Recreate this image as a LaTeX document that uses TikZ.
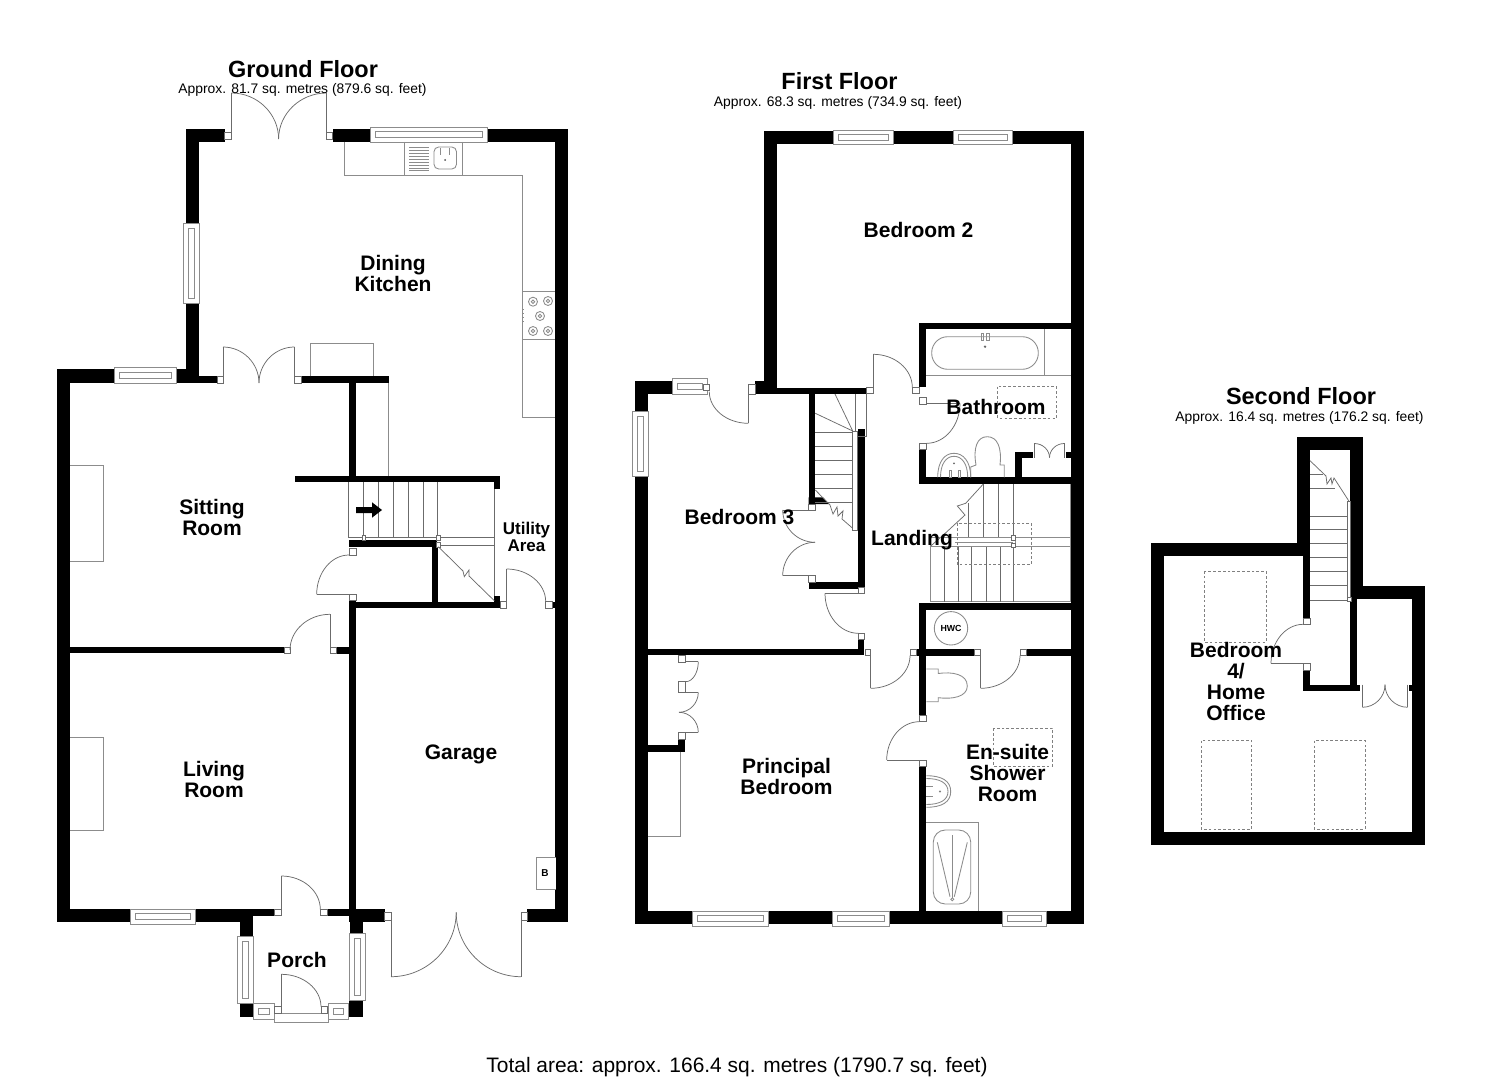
\documentclass[tikz,border=0pt]{standalone}
\usepackage{fontspec}
\setmainfont{Liberation Sans}
\tikzset{
  ln/.style={draw=black!58,line width=0.55pt,line join=miter},
  fx/.style={draw=black!45,line width=0.65pt},
  dsh/.style={draw=black!50,line width=0.7pt,dash pattern=on 2pt off 1.6pt},
  room/.style={inner sep=0pt,align=center,font=\fontsize{15.75}{15.75}\selectfont\bfseries},
  small room/.style={inner sep=0pt,align=center,font=\fontsize{12.75}{12.5}\selectfont\bfseries},
  title/.style={inner sep=0pt,font=\fontsize{17.6}{20}\selectfont\bfseries},
  sub/.style={inner sep=0pt,font=\fontsize{10.4}{12}\selectfont}
}
\newcommand{\wl}[4]{\fill[black] (#1,#2) rectangle (#3,#4);}
\newcommand{\sq}[4]{\filldraw[fill=white,ln] (#1,#2) rectangle (#3,#4);}
\newcommand{\qa}[4]{\draw[ln] (#1,#2) .. controls ({#1+.55*(#3-#1)},#2) and (#3,{#4-.55*(#4-#2)}) .. (#3,#4);}
\newcommand{\hwin}[4]{\filldraw[fill=white,fx] (#1,#3) rectangle (#2,#4);
  \draw[fx] ({#1+5},{(#3+#4)/2-3}) rectangle ({#2-5},{(#3+#4)/2+3});}
\newcommand{\vwin}[4]{\filldraw[fill=white,fx] (#1,#3) rectangle (#2,#4);
  \draw[fx] ({(#1+#2)/2-3},{#3+5}) rectangle ({(#1+#2)/2+3},{#4-5});}
\begin{document}
\begin{tikzpicture}[x=0.75pt,y=-0.75pt]
\useasboundingbox (0,0) rectangle (1485,1080);
\fill[white] (0,0) rectangle (1485,1080);

%% ---------- GROUND FLOOR ----------
% outer walls
\wl{186}{129}{224.5}{142}
\wl{186}{129}{199}{223}
\wl{186}{303}{199}{383}
\wl{57}{369}{114}{383}
\wl{176}{369}{199}{383}
\wl{199}{376.5}{217}{383}
\wl{57}{369}{70}{922}
\wl{333}{129}{370}{142}
\wl{487.6}{129}{568}{142}
\wl{555}{129}{568}{922}
\wl{301}{376.5}{389}{383}
\wl{349}{382}{355.7}{480}
\wl{295}{475.7}{500}{482}
\wl{494.3}{482}{500}{489}
\wl{349}{540}{437}{546.7}
\wl{432}{546}{438.3}{602}
\wl{349}{601.7}{500}{608.3}
\wl{494.3}{596}{500}{602}
\wl{349}{601}{355.7}{922}
\wl{552.3}{601.7}{555}{608.3}
\wl{70}{646.7}{284.5}{653.3}
\wl{336}{647.3}{349}{653.7}
% bottom
\wl{57}{909.3}{130.3}{922.3}
\wl{195.5}{909.3}{253}{922.3}
\wl{240}{922}{253}{936}
\wl{253}{909.3}{274.5}{915.7}
\wl{327}{909.3}{350}{915.7}
\wl{349.7}{909.3}{384.8}{922.3}
\wl{349.7}{922}{362.8}{933.3}
\wl{240}{1003.3}{253.8}{1017.3}
\wl{349}{1000}{362.8}{1017.3}
\wl{527}{909.3}{568}{922.3}
% windows
\hwin{370}{487.6}{127.3}{142}
\vwin{183.8}{199.7}{223}{303}
\hwin{114}{176}{367.5}{383}
\hwin{130.3}{195.5}{909.3}{924.3}
\vwin{237}{253}{936}{1003.3}
\vwin{349.7}{365.9}{933.3}{1000}
\hwin{253.8}{274.5}{1003}{1019}
\hwin{328}{348.8}{1003}{1019}
\filldraw[fill=white,fx] (274.5,1013) rectangle (328,1022.7);
% rear french doors
\sq{224.5}{132}{231.4}{139}
\sq{326.6}{132}{332.8}{139}
\draw[ln] (231.4,139) -- (231.4,93);
\draw[ln] (326.6,139) -- (326.6,93);
\qa{231.4}{93}{278.6}{139}
\qa{326.6}{93}{278.6}{139}
% sitting room doors
\sq{217}{376.5}{223}{383}
\sq{294.5}{376.5}{301}{383}
\draw[ln] (223,376.5) -- (223,347);
\draw[ln] (294.5,376.5) -- (294.5,347);
\qa{223}{347}{259}{383}
\qa{294.5}{347}{259}{383}
% kitchen units
\draw[fx] (344,142) -- (344,175) -- (522,175) -- (522,417) -- (555,417);
\draw[fx] (404,142) -- (404,175);
\draw[fx] (462,142) -- (462,175);
\foreach \yy in {147,150,153,156,159,162,165,168,170}{\draw[fx] (409,\yy) -- (429,\yy);}
\draw[fx,rounded corners=3.5pt] (434,147) rectangle (456.5,169);
\draw[fx] (440,148) -- (440,155);
\draw[fx] (449,148) -- (449,155);
\fill[black!70] (445,160) circle[radius=1];
\draw[fx] (522,291.7) -- (555,291.7);
\draw[fx] (522,339.3) -- (555,339.3);
\foreach \cx/\cy in {533/301.7,548/301,540/316,533/331,548/331}{
  \draw[fx] (\cx,\cy) circle[radius=4.5];
  \draw[fx] (\cx,\cy) circle[radius=1.8];}
\foreach \yy in {309,313,317,321}{\draw[fx] (522,\yy) -- (524,\yy);}
% fireplace-like boxes
\draw[fx] (310.7,376.5) -- (310.7,343) -- (373.8,343) -- (373.8,376.5);
\draw[fx] (70,465) -- (103.5,465) -- (103.5,561) -- (70,561);
\draw[fx] (70,737.3) -- (103.8,737.3) -- (103.8,830.7) -- (70,830.7);
% stairs
\draw[fx] (388.3,383) -- (388.3,476);
\draw[ln] (348.3,482) -- (348.3,537.7) -- (494.3,537.7);
\foreach \xx in {363.3,378.3,393.3,408.3,423.3,437.7}{\draw[ln] (\xx,482) -- (\xx,537.7);}
\draw[ln] (494.3,489) -- (494.3,596);
\draw[ln] (438.3,545) -- (494.3,545);
\sq{362}{535.7}{365.7}{540}
\sq{436.7}{535.7}{440.7}{540}
\sq{436.7}{542.7}{440.7}{547}
\draw[ln] (438.3,546.7) -- (463,571) -- (464.3,576.7) -- (469,570) -- (469,576) -- (494.3,600.7);
% arrow
\fill[black] (356,507) -- (372,507) -- (372,502.3) -- (382,510) -- (372,517.7) -- (372,513) -- (356,513) -- cycle;
% cupboard door
\sq{349}{548.3}{356}{555}
\sq{349}{594.3}{356}{600.7}
\qa{349}{555}{316.7}{594.3}
\draw[ln] (316.7,594.3) -- (349,594.3);
% utility door
\sq{500}{601.7}{506.7}{608.3}
\sq{545.7}{601.7}{552.3}{608.3}
\draw[ln] (506.7,601.7) -- (506.7,569);
\qa{506.7}{569}{545.7}{601.7}
% sitting-living door
\sq{284.5}{647.3}{290}{653.7}
\sq{330}{647.3}{336}{653.7}
\draw[ln] (330,647.3) -- (330,614.3);
\qa{330}{614.3}{290}{650}
% front door inner
\sq{274.5}{909.3}{281.4}{915.7}
\sq{320.3}{909.3}{327}{915.7}
\draw[ln] (281.4,909.3) -- (281.4,876);
\qa{281.4}{876}{320.3}{909.3}
% porch door
\sq{274.5}{1006.7}{281.4}{1013}
\sq{321}{1006.7}{327}{1013}
\draw[ln] (281.4,1006.7) -- (281.4,974.3);
\qa{281.4}{974.3}{321}{1006.7}
% garage doors
\sq{384.8}{912.3}{391}{920}
\sq{521}{912.3}{527}{920}
\draw[ln] (391,920) -- (391,976.7);
\draw[ln] (521,920) -- (521,976.7);
\qa{391}{976.7}{456.2}{912.3}
\qa{521}{976.7}{456.2}{912.3}
% boiler
\filldraw[fill=white,fx] (555.5,857.7) -- (536,857.7) -- (536,889.3) -- (555.5,889.3);
\node[inner sep=0pt,font=\fontsize{7.5}{8}\selectfont\bfseries] (boiler) at (545,873) {B};

%% ---------- FIRST FLOOR ----------
\wl{764}{131}{833}{144}
\wl{893}{131}{953}{144}
\wl{1012}{131}{1084}{144}
\wl{764}{131}{776.7}{394}
\wl{755}{380.7}{776.7}{394}
\wl{755}{387.7}{866.7}{394}
\wl{1071}{131}{1084}{924.3}
\wl{635}{380.7}{672.3}{394}
\wl{635}{380.7}{648.3}{411}
\wl{635}{476.7}{648.3}{924.3}
\wl{635}{911}{692.7}{924.3}
\wl{768.7}{911}{832.7}{924.3}
\wl{889.3}{911}{1002.3}{924.3}
\wl{1046.7}{911}{1084}{924.3}
\wl{808.7}{394}{815.3}{504}
\fill[black] (808.7,497.3) -- (823,497.3) -- (829,504) -- (808.7,504) -- cycle;
\wl{808.7}{582.3}{865}{588.7}
\wl{857.7}{429}{865}{588.7}
\wl{857.7}{639.3}{864.3}{655}
\wl{648}{649.3}{864.3}{655.3}
\wl{648}{744.7}{685}{751.7}
\wl{678.3}{739}{685}{751.7}
\wl{919.3}{322.7}{1071}{329.3}
\wl{919.3}{322.7}{926.3}{387.3}
\wl{919.3}{449.3}{926.3}{484}
\wl{919.3}{477.3}{1071}{484}
\wl{1015}{451.7}{1021.7}{478}
\wl{1015}{451.7}{1032.7}{457.7}
\wl{1066}{451.7}{1071}{457.7}
\wl{919.3}{603.3}{1071}{610}
\wl{919.3}{603.3}{926.3}{715.7}
\wl{916.7}{649}{974.3}{655.7}
\wl{1026}{649}{1071}{655.7}
\wl{919.3}{766.7}{926.3}{911}
% windows
\hwin{833}{893}{130}{144}
\hwin{953}{1012}{130}{144}
\hwin{672.3}{707.3}{378.3}{394}
\vwin{632.7}{648.3}{411}{476.7}
\hwin{692.7}{768.7}{911}{926}
\hwin{832.7}{889.3}{911}{926}
\hwin{1002.3}{1046.7}{911}{926}
% bedroom 3 entry door
\sq{703}{384}{709}{390.7}
\sq{748.3}{384}{755}{394}
\draw[ln] (748.3,394) -- (748.3,423.3);
\qa{748.3}{423.3}{709.3}{391.7}
% small stairs
\draw[ln] (866.7,394) -- (866.7,436.7) -- (857.7,436.7);
\draw[ln] (855,394) -- (855,431);
\filldraw[fill=white,ln] (852.7,431) rectangle (857.7,530.7);
\foreach \yy in {432.3,446,460,474,488.3,502.3}{\draw[ln] (815.3,\yy) -- (852.7,\yy);}
\draw[ln] (815.3,413.3) -- (852.7,431) -- (835,394);
\draw[ln] (815.3,490) -- (830,505) -- (833,514) -- (837,507) -- (838,516) -- (843,511) -- (842,519) -- (852.7,528.3);
\wl{857.7}{498}{859.5}{504}
% bedroom 3 cupboard doors
\sq{808.7}{504}{815.3}{510}
\sq{808.7}{575.7}{815.3}{582.3}
\draw[ln] (808.7,510) -- (782.7,510);
\draw[ln] (808.7,575.7) -- (782.7,575.7);
\qa{815}{542.3}{782.7}{510}
\qa{815}{542.3}{782.7}{575.7}
% landing-bedroom 3 door
\sq{858.3}{587.7}{864.3}{593.3}
\sq{858.3}{633.3}{864.3}{639.3}
\draw[ln] (858.3,593.3) -- (825,593.3);
\qa{858.3}{633.3}{825}{593.3}
% closet doors
\sq{678.3}{655.3}{685.7}{662.7}
\sq{678.3}{681.7}{685.7}{692}
\sq{678.3}{732.3}{685}{739}
\draw[ln] (685.7,661.7) -- (698.3,661.7);
\draw[ln] (685.7,692.3) -- (698.3,692.3);
\draw[ln] (685,732.3) -- (698.3,732.3);
\qa{685.7}{681.7}{698.3}{661.7}
\qa{679}{712.3}{698.3}{692.3}
\qa{679}{712.3}{698.3}{732.3}
\draw[fx] (680.7,751.7) -- (680.7,836.7) -- (648.3,836.7);
% bathroom doors
\sq{912.3}{387.3}{919.3}{393.3}
\sq{866.7}{387.3}{873.3}{393.3}
\draw[ln] (873.3,390) -- (873.3,354.3);
\qa{873.3}{354.3}{912.3}{387.3}
\sq{919.3}{397.3}{926.3}{404}
\sq{919.3}{443.3}{926.3}{449.3}
\draw[ln] (926.3,403.3) -- (960,403.3);
\qa{926.7}{443.3}{960}{403.3}
% bath
\draw[fx] (926.3,375) -- (1071,375);
\draw[fx] (1044.3,329.3) -- (1044.3,375);
\draw[fx,rounded corners=12pt] (931.7,336.7) rectangle (1038.3,369.3);
\draw[fx] (981,333) rectangle (983.5,340);
\draw[fx] (986.5,333) rectangle (989,340);
\fill[black!60] (985,346.7) circle[radius=1.3];
\draw[dsh] (997.7,386.7) rectangle (1056.7,418.3);
% bathroom cupboard doors
\draw[ln] (1034.3,457.7) -- (1034.3,443.5);
\draw[ln] (1064.3,457.7) -- (1064.3,443.5);
\qa{1034.3}{443.5}{1049.5}{457.7}
\qa{1064.3}{443.5}{1049.5}{457.7}
% bathroom WC + basin
\draw[fx] (970.7,477.3) -- (970.7,467) -- (976,465) .. controls (973,448) and (977,436.7) .. (987.3,436.7) .. controls (997.5,436.7) and (1002,448) .. (1000,465) -- (1004.3,465) -- (1004.3,477.3);
\draw[fx] (937.7,477.3) .. controls (937.7,461) and (945,453.3) .. (954,453.3) .. controls (963,453.3) and (970.7,461) .. (970.7,477.3);
\draw[fx] (940.5,477.3) .. controls (940.5,464) and (946,456.3) .. (954,456.3) .. controls (962,456.3) and (967.7,464) .. (967.7,477.3);
\fill[black!60] (954,463.3) circle[radius=1];
\draw[fx] (949,470) rectangle (951,477);
\draw[fx] (958,470) rectangle (960,477);
% landing stairs
\draw[ln] (983.3,484) -- (983.3,537.7);
\draw[ln] (998.3,484) -- (998.3,537.7);
\draw[ln] (1013.3,484) -- (1013.3,537.7);
\draw[ln] (968.3,503) -- (968.3,537.7);
\draw[ln] (983.3,484) -- (965.7,503.3) -- (957.3,506) -- (965,515) -- (943.3,535) -- (930,546.7);
\draw[fx] (1070,484) -- (1070,601.7) -- (930,601.7) -- (930,546.7);
\draw[fx] (930,537.7) rectangle (1015,546.7);
\draw[fx] (955,542) -- (1013,542);
\draw[fx] (1015,537.7) -- (1070,537.7);
\draw[fx] (1015,546) -- (1070,546);
\foreach \xx in {944.3,958.3,971.7,986,1000,1013.3}{\draw[ln] (\xx,546.7) -- (\xx,601.7);}
\sq{1011.7}{535.7}{1015.7}{540}
\sq{1011.7}{543.3}{1015.7}{547.3}
\draw[dsh] (957.3,523.3) rectangle (1031.7,564);
% HWC
\draw[fx] (951,628.3) circle[radius=16.7];
\node[inner sep=0pt,font=\fontsize{6.6}{8}\selectfont\bfseries] (hwc) at (951,628.3) {HWC};
% en-suite doors
\sq{910}{649}{916.7}{655.7}
\sq{865}{649}{870.7}{655.7}
\draw[ln] (870.7,655.7) -- (870.7,688.3);
\qa{870.7}{688.3}{910}{655.7}
\sq{974.3}{649}{980.7}{655.7}
\sq{1020}{649}{1026}{655.7}
\draw[ln] (980.7,655.7) -- (980.7,688.3);
\qa{980.7}{688.3}{1020}{655.7}
\sq{919.3}{715}{926.3}{721.7}
\sq{919.3}{760}{926.3}{766.7}
\draw[ln] (919.3,760) -- (886.7,760);
\qa{919.3}{721.7}{886.7}{760}
% en-suite WC
\draw[fx] (926.3,669) -- (938.3,669) -- (938.3,673.5) .. controls (952,671.5) and (967.3,674) .. (967.3,686) .. controls (967.3,697) and (952,699.5) .. (938.3,697.7) -- (938.3,701.7) -- (926.3,701.7);
% en-suite basin
\draw[fx] (926.3,775.7) .. controls (942,775.7) and (950.7,781) .. (950.7,791.5) .. controls (950.7,802) and (942,807.3) .. (926.3,807.3);
\draw[fx] (926.3,778.5) .. controls (940,778.5) and (948,783) .. (948,791.5) .. controls (948,800) and (940,804.5) .. (926.3,804.5);
\draw[fx] (926.3,786.5) -- (933,786.5);
\draw[fx] (926.3,796) -- (933,796);
\fill[black!50] (940,791.5) circle[radius=1.2];
% shower
\draw[fx] (926.3,822.3) -- (978.3,822.3) -- (978.3,911);
\draw[fx,rounded corners=9pt] (933.3,830) rectangle (970.7,904);
\draw[fx] (952.3,835) -- (952.3,897.5);
\draw[fx] (937.3,842.3) -- (950,896.7);
\draw[fx] (967.3,842.3) -- (954.3,896.7);
\draw[fx] (952.3,899.3) circle[radius=1.5];
\draw[dsh] (993.3,728.3) rectangle (1052.3,766);

%% ---------- SECOND FLOOR ----------
\wl{1151}{832.3}{1425}{845}
\wl{1151}{542.7}{1164.3}{845}
\wl{1151}{542.7}{1310}{555.7}
\wl{1297.3}{437.3}{1310}{555.7}
\wl{1303.3}{555}{1310}{618.3}
\wl{1297.3}{437.3}{1362.7}{450}
\wl{1350}{437.3}{1362.7}{599}
\wl{1350}{585.7}{1425}{599}
\wl{1350}{599}{1356.7}{690.7}
\wl{1412.3}{585.7}{1425}{845}
\wl{1303.3}{670}{1310}{690.7}
\wl{1303.3}{684.7}{1360}{690.7}
\wl{1409.3}{684.7}{1412.5}{690.7}
\sq{1303.3}{618.3}{1310}{624.3}
\sq{1303.3}{663.3}{1310}{670}
\draw[ln] (1303.3,663.3) -- (1271,663.3);
\qa{1303.3}{624.3}{1271}{663.3}
\draw[ln] (1362.3,684.7) -- (1362.3,707.3);
\draw[ln] (1407.7,684.7) -- (1407.7,707.3);
\qa{1362.3}{707.3}{1385}{684.7}
\qa{1407.7}{707.3}{1385}{684.7}
% top stairs
\filldraw[fill=white,ln] (1347.3,501.7) rectangle (1350,601.7);
\sq{1347.5}{597}{1351}{601.7}
\foreach \yy in {516,529.3,543.3,557.3,571.3,585.3,600}{\draw[ln] (1310,\yy) -- (1347.3,\yy);}
\draw[ln] (1310,488.3) -- (1335,488.3);
\draw[ln] (1310,474.3) -- (1323,474.3);
\draw[ln] (1310,460.7) -- (1326,476) -- (1327,484) -- (1331,478) -- (1332,484) -- (1334,478) -- (1349.3,501.7);
\draw[dsh] (1204.3,571) rectangle (1266,642.3);
\draw[dsh] (1201,740.7) rectangle (1251.7,829);
\draw[dsh] (1314.3,740.7) rectangle (1365,829);

%% ---------- TEXT ----------
\node[title] (gf) at (303,69) {Ground Floor};
\node[sub] (gfa) at (302.5,90) {Approx. 81.7 sq. metres (879.6 sq. feet)};
\node[title] (ff) at (839.5,81) {First Floor};
\node[sub] (ffa) at (838,102.5) {Approx. 68.3 sq. metres (734.9 sq. feet)};
\node[title] (sf) at (1301,396) {Second Floor};
\node[sub] (sfa) at (1299.5,417.5) {Approx. 16.4 sq. metres (176.2 sq. feet)};
\node[room] (dk) at (393,273) {Dining\\Kitchen};
\node[room] (sr) at (212,517) {Sitting\\Room};
\node[room] (lr) at (214,779) {Living\\Room};
\node[room] (gar) at (461,754) {Garage};
\node[room] (por) at (297,960) {Porch};
\node[small room] (ua) at (526.5,537) {Utility\\Area};
\node[room] (b2) at (918.5,230) {Bedroom 2};
\node[room] (b3) at (739.5,517) {Bedroom 3};
\node[room] (land) at (912,540) {Landing};
\node[room] (bath) at (996,407) {Bathroom};
\node[room] (pb) at (786.5,776) {Principal\\Bedroom};
\node[room] (en) at (1007.5,773) {En-suite\\Shower\\Room};
\node[room] (b4) at (1236,681) {Bedroom\\4/\\Home\\Office};
\node[inner sep=0pt,font=\fontsize{15.7}{18}\selectfont] (tot) at (737,1067.5) {Total area: approx. 166.4 sq. metres (1790.7 sq. feet)};
\end{tikzpicture}
\end{document}
